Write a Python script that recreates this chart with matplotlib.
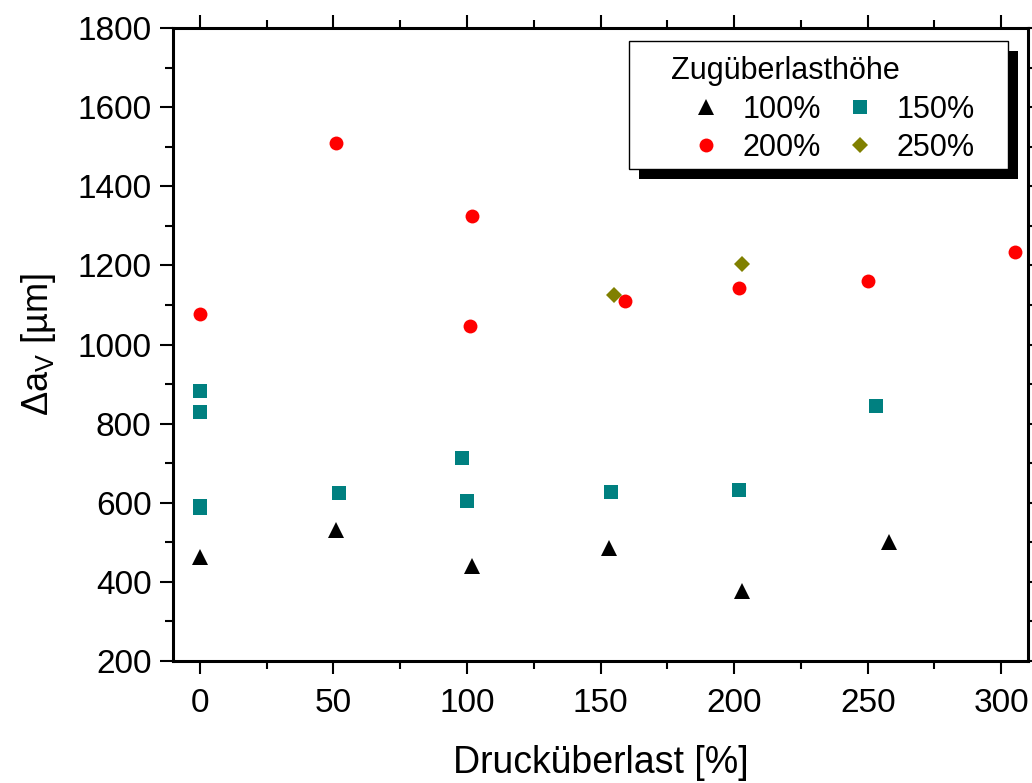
import matplotlib
matplotlib.use("Agg")
import matplotlib.pyplot as plt
from matplotlib.patches import Rectangle
from matplotlib.ticker import MultipleLocator
from matplotlib.transforms import Bbox, IdentityTransform

plt.rcParams["font.family"] = ["Liberation Sans", "DejaVu Sans"]
plt.rcParams["mathtext.fontset"] = "custom"
plt.rcParams["mathtext.rm"] = "Liberation Sans"
plt.rcParams["mathtext.it"] = "Liberation Sans:italic"

# Zugüberlast 100 %
x_100 = [0, 51, 102, 153, 203, 258]
y_100 = [463, 530, 441, 485, 376, 500]

# Zugüberlast 150 %
x_150 = [0, 0, 0, 0, 52, 98, 100, 154, 202, 253]
y_150 = [882, 830, 592, 587, 625, 713, 604, 626, 631, 845]

# Zugüberlast 200 %
x_200 = [0, 51, 101, 102, 159, 202, 250, 305]
y_200 = [1077, 1510, 1047, 1326, 1110, 1144, 1160, 1234]

# Zugüberlast 250 %
x_250 = [155, 203]
y_250 = [1125, 1204]

fig = plt.figure(figsize=(10.32, 7.83), dpi=100)
ax = fig.add_axes([173 / 1032, 1 - 661 / 783, 855 / 1032, 633 / 783])

h100, = ax.plot(x_100, y_100, ls="none", marker="^", ms=11.5, mew=0,
                color="black", label="100%")
h150, = ax.plot(x_150, y_150, ls="none", marker="s", ms=9.5, mew=0,
                color="#008080", label="150%")
h200, = ax.plot(x_200, y_200, ls="none", marker="o", ms=10, mew=0,
                color="#ff0000", label="200%")
h250, = ax.plot(x_250, y_250, ls="none", marker="D", ms=8.5, mew=0,
                color="#808000", label="250%")

ax.set_xlim(-10, 310)
ax.set_ylim(200, 1800)
ax.xaxis.set_major_locator(MultipleLocator(50))
ax.xaxis.set_minor_locator(MultipleLocator(25))
ax.yaxis.set_major_locator(MultipleLocator(200))
ax.yaxis.set_minor_locator(MultipleLocator(100))

ax.tick_params(which="both", direction="out", top=True, right=True,
               width=1.5, labelsize=24)
ax.tick_params(which="major", length=9.5)
ax.tick_params(which="minor", length=5.5)
ax.tick_params(axis="x", which="major", pad=10)
ax.tick_params(axis="y", which="major", pad=6)
for sp in ax.spines.values():
    sp.set_linewidth(2.2)

ax.set_xlabel("Drucküberlast [%]", fontsize=27, labelpad=19)
ax.set_ylabel("Δa$_\\mathregular{V}$ [µm]", fontsize=26, labelpad=14)

# Legende: Einträge eingerückt unter dem Titel
leg = ax.legend(handles=[h100, h200, h150, h250], ncol=2,
                fontsize=22, frameon=False,
                loc="upper left", bbox_to_anchor=(691, 783 - 95),
                bbox_transform=IdentityTransform(), borderpad=0,
                borderaxespad=0, handlelength=1.0, handletextpad=0.7,
                columnspacing=0.75, labelspacing=0.25, markerscale=1.0)
leg.set_zorder(6)
leg_title = ax.text(671, 783 - 79, "Zugüberlasthöhe", fontsize=22,
                    transform=IdentityTransform(), va="baseline",
                    ha="left", zorder=6)

# Rahmen mit Schlagschatten um die Legende
fig.canvas.draw()
r = fig.canvas.get_renderer()
bb = Bbox.union([leg.get_window_extent(r), leg_title.get_window_extent(r)])
x0, y0 = bb.x0 - 42, bb.y0 - 6
w, h = bb.width + 75, bb.height + 21
shadow = Rectangle((x0 + 10, y0 - 10), w, h, transform=IdentityTransform(),
                   facecolor="black", edgecolor="none", zorder=4.4,
                   clip_on=False)
frame = Rectangle((x0, y0), w, h, transform=IdentityTransform(),
                  facecolor="white", edgecolor="black", lw=1.0, zorder=4.5,
                  clip_on=False)
ax.add_artist(shadow)
ax.add_artist(frame)

fig.savefig("out.png", dpi=100)
